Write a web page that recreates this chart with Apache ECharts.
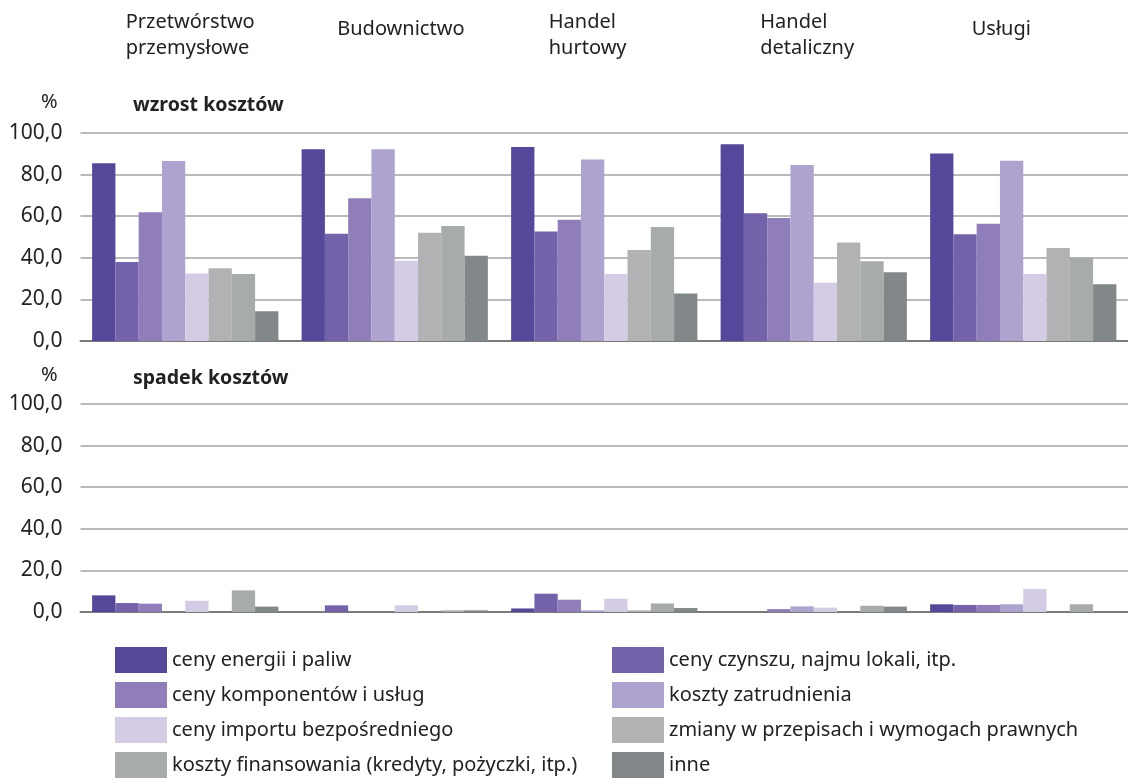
<!DOCTYPE html>
<html>
<head>
<meta charset="utf-8">
<script src="https://cdn.jsdelivr.net/npm/echarts@6/dist/echarts.min.js"></script>
<style>html,body{margin:0;padding:0;background:#fff;}#c{width:1128px;height:784px;}</style>
</head>
<body>
<div id="c"></div>
<script>
const categories = ['Przetwórstwo\nprzemysłowe', 'Budownictwo', 'Handel\nhurtowy', 'Handel\ndetaliczny', 'Usługi'];
const seriesNames = [
  'ceny energii i paliw',
  'ceny czynszu, najmu lokali, itp.',
  'ceny komponentów i usług',
  'koszty zatrudnienia',
  'ceny importu bezpośredniego',
  'zmiany w przepisach i wymogach prawnych',
  'koszty finansowania (kredyty, pożyczki, itp.)',
  'inne'
];
const colors = ['#554799', '#7362a9', '#8f7eb9', '#aea2cf', '#d4cce5', '#b2b1b4', '#a7aba9', '#82878a'];
// wzrost kosztów (per series, per category)
const wzrost = [
  [85.4, 92.2, 93.3, 94.6, 90.2],
  [38.0, 51.6, 52.6, 61.4, 51.3],
  [61.9, 68.6, 58.3, 59.1, 56.4],
  [86.5, 92.2, 87.2, 84.6, 86.7],
  [32.5, 38.6, 32.2, 28.0, 32.2],
  [35.0, 52.1, 43.8, 47.4, 44.7],
  [32.2, 55.3, 54.8, 38.3, 40.2],
  [14.3, 41.0, 22.8, 33.0, 27.3]
];
// spadek kosztów
const spadek = [
  [8.0, 0, 1.7, 0, 3.7],
  [4.3, 3.2, 8.8, 0, 3.4],
  [4.0, 0, 5.9, 1.4, 3.4],
  [0, 0, 0.8, 2.7, 3.7],
  [5.4, 3.2, 6.4, 2.1, 11.1],
  [0, 0, 0.8, 0, 0],
  [10.4, 0.8, 4.1, 3.0, 3.7],
  [2.6, 0.8, 1.9, 2.6, 0]
];
const yTicks = [0, 20, 40, 60, 80, 100];

const FONT = 'Noto Sans';
const chart = echarts.init(document.getElementById('c'), null, {renderer: 'canvas'});

function yAxisCfg(gi) {
  return {
    type: 'value', gridIndex: gi, min: yTicks[0], max: yTicks[yTicks.length - 1], interval: 20,
    axisLine: {show: false}, axisTick: {show: false},
    axisLabel: {fontFamily: FONT, fontSize: 21, color: '#222', margin: 18,
      formatter: v => v.toFixed(1).replace('.', ',')},
    splitLine: {lineStyle: {color: '#a3a3a3', width: 1.5}}
  };
}
function xAxisCfg(gi) {
  return {
    type: 'category', gridIndex: gi, data: categories,
    axisLine: {lineStyle: {color: '#7a7a7a', width: 2}},
    axisTick: {show: false}, axisLabel: {show: false}
  };
}

const series = [];
seriesNames.forEach((name, i) => {
  [wzrost, spadek].forEach((arr, gi) => {
    series.push({
      name: name, type: 'bar', xAxisIndex: gi, yAxisIndex: gi,
      data: arr[i], barGap: 0, barCategoryGap: '11.1%',
      itemStyle: {color: colors[i]},
      emphasis: {disabled: true}, animation: false
    });
  });
});

const legendBase = {
  orient: 'vertical', top: 647, height: 160, itemWidth: 52, itemHeight: 26, itemGap: 9, padding: 0,
  icon: 'rect', textStyle: {fontFamily: FONT, fontSize: 20, color: '#222'},
  selectedMode: false
};

chart.setOption({
  animation: false,
  textStyle: {fontFamily: FONT},
  title: [
    {text: 'wzrost kosztów', left: 128, top: 90, textStyle: {fontFamily: FONT, fontSize: 19.5, fontWeight: 'bold', color: '#222'}},
    {text: 'spadek kosztów', left: 128, top: 363, textStyle: {fontFamily: FONT, fontSize: 19.5, fontWeight: 'bold', color: '#222'}}
  ],
  graphic: [
    {type: 'text', left: 41, top: 92, style: {text: '%', font: '20px "Noto Sans"', fill: '#222'}},
    {type: 'text', left: 41, top: 365, style: {text: '%', font: '20px "Noto Sans"', fill: '#222'}}
  ],
  legend: [
    Object.assign({}, legendBase, {left: 115, data: [seriesNames[0], seriesNames[2], seriesNames[4], seriesNames[6]]}),
    Object.assign({}, legendBase, {left: 612, data: [seriesNames[1], seriesNames[3], seriesNames[5], seriesNames[7]]})
  ],
  grid: [
    {left: 80.5, top: 133, width: 1057.5, height: 208},
    {left: 80.5, top: 404, width: 1057.5, height: 208},
    {left: 20, top: 133, width: 1057.5, height: 208, show: false}
  ],
  xAxis: [
    xAxisCfg(0),
    xAxisCfg(1),
    {
      type: 'category', gridIndex: 2, position: 'top', data: categories,
      axisLine: {show: false}, axisTick: {show: false}, splitLine: {show: false},
      axisLabel: {
        interval: 0, margin: 98, align: 'left', verticalAlign: 'middle', fontFamily: FONT, fontSize: 20, color: '#222', lineHeight: 26,
        formatter: v => v.indexOf('\n') >= 0 ? v : '{s|' + v + '}',
        rich: {s: {fontFamily: FONT, fontSize: 20, color: '#222', padding: [0, 0, 12, 0]}}
      }
    }
  ],
  yAxis: [yAxisCfg(0), yAxisCfg(1), {type: 'value', gridIndex: 2, show: false}],
  series: series
});
</script>
</body>
</html>
